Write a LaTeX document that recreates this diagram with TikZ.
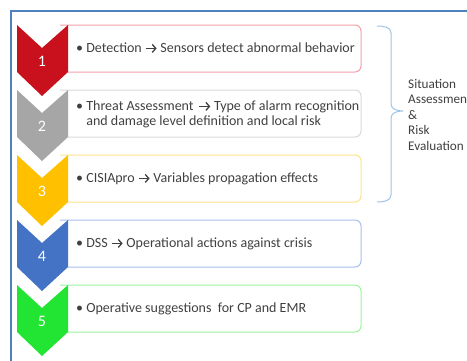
\documentclass[tikz,border=0pt]{standalone}
\usepackage{fontspec}
\setmainfont{Carlito}
\usepackage{tikz}
\usetikzlibrary{arrows.meta}

\definecolor{frameblue}{HTML}{4F81BD}
\definecolor{bracecol}{HTML}{9DC3E6}
\definecolor{txtgray}{HTML}{404040}
\definecolor{chevA}{HTML}{C9111E}
\definecolor{chevB}{HTML}{A6A6A6}
\definecolor{chevC}{HTML}{FFC000}
\definecolor{chevD}{HTML}{4472C4}
\definecolor{chevE}{HTML}{22E533}
\definecolor{boxA}{HTML}{F2A0A8}
\definecolor{boxB}{HTML}{D9D9D9}
\definecolor{boxC}{HTML}{FFE38C}
\definecolor{boxD}{HTML}{A4C0EC}
\definecolor{boxE}{HTML}{9CF59C}

\newcommand{\arr}{\tikz[baseline=-3.6pt]\draw[txtgray,line width=1.3pt,-{Straight Barb[length=3.5pt,width=8pt]}] (0pt,0pt) -- (11pt,0pt);}

\tikzset{
  chev/.style={fill=#1,draw=none},
  stagebox/.style={draw=#1,line width=1pt,rounded corners=6},
  num/.style={text=white,font=\fontsize{16}{16}\selectfont,anchor=base},
  item/.style={text=txtgray,font=\fontsize{14}{15}\selectfont,anchor=base west,align=left,inner sep=0pt},
}

\begin{document}
\begin{tikzpicture}[x=1pt,y=-1pt]
  \useasboundingbox (0,0) rectangle (467,360);
  % outer frame
  \draw[frameblue,line width=1.6pt] (11,380) -- (11,11) -- (480,11);
  % chevrons and boxes
  \foreach \k/\c in {0/A,1/B,2/C,3/D,4/E} {
    \begin{scope}[yshift=-65*\k]
      \draw[stagebox=box\c] (60,25) -- (361,25) -- (361,72) -- (60,72);
      \fill[chev=chev\c] (17,25) -- (42,48) -- (68,25) -- (68,72) -- (42,96) -- (17,72) -- cycle;
    \end{scope}
  }
  \node[num] (n1) at (42,66) {1};
  \node[num] (n2) at (42,131) {2};
  \node[num] (n3) at (42,196) {3};
  \node[num] (n4) at (42,261) {4};
  \node[num] (n5) at (42,326) {5};
  % texts
  \node[item] (t1) at (76,52) {• Detection \arr{} Sensors detect abnormal behavior};
  \node[item] (t2) at (76,125) {• Threat Assessment\hspace{5pt}\arr{} Type of alarm recognition\\
    \hphantom{• }and damage level definition and local risk};
  \node[item] (t3) at (76,182) {• CISIApro \arr{} Variables propagation effects};
  \node[item] (t4) at (76,247) {• DSS \arr{} Operational actions against crisis};
  \node[item] (t5) at (76,312) {• Operative suggestions\ \ for CP and EMR};
  % brace
  \coordinate (bt) at (377,26);
  \coordinate (bb) at (377,202);
  \coordinate (tip) at (403,111);
  \draw[bracecol,line width=1pt] (bt) to[out=0,in=90] (391,33) -- (391,104)
    to[out=-90,in=180] (tip) to[out=180,in=90] (391,118) -- (391,195)
    to[out=-90,in=0] (bb);
  \node[item,anchor=north west,font=\fontsize{13.2}{15.5}\selectfont] (sare) at (408,79)
    {Situation\\Assessmen\\\&\\Risk\\Evaluation};
\end{tikzpicture}
\end{document}
